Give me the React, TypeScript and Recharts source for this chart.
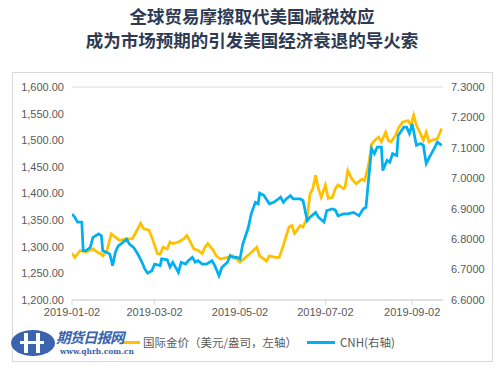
import React from "react";
import { LineChart, Line, XAxis, YAxis, CartesianGrid } from "recharts";

const titleLines = ["全球贸易摩擦取代美国减税效应", "成为市场预期的引发美国经济衰退的导火索"];

// days since 2019-01-02
const tickDays = [0, 59, 120, 181, 243];
const tickLabels = ["2019-01-02", "2019-03-02", "2019-05-02", "2019-07-02", "2019-09-02"];

const goldDays = [0, 2, 6, 10, 15, 18, 21, 22, 25, 28, 31, 34, 39, 43, 45, 49, 51, 55, 57, 61, 63, 65, 68, 70, 72, 76, 80, 82, 84, 87, 90, 93, 95, 97, 101, 103, 106, 111, 115, 120, 124, 127, 132, 134, 139, 141, 145, 148, 151, 155, 157, 159, 163, 165, 168, 170, 172, 174, 176, 178, 181, 183, 186, 188, 190, 194, 195, 197, 200, 203, 207, 209, 212, 214, 216, 219, 221, 224, 226, 228, 231, 233, 236, 240, 242, 244, 246, 249, 251, 253, 255, 257, 261, 264];
const goldValues = [1288, 1280, 1293, 1290, 1296, 1290, 1286, 1283, 1293, 1324, 1318, 1312, 1315, 1315, 1324, 1344, 1334, 1331, 1318, 1287, 1286, 1299, 1296, 1309, 1306, 1309, 1315, 1321, 1312, 1296, 1293, 1287, 1299, 1306, 1293, 1283, 1277, 1280, 1283, 1271, 1280, 1287, 1299, 1283, 1273, 1283, 1280, 1280, 1303, 1337, 1340, 1325, 1340, 1337, 1355, 1399, 1409, 1434, 1409, 1393, 1416, 1391, 1393, 1409, 1416, 1409, 1412, 1443, 1427, 1418, 1427, 1424, 1456, 1493, 1499, 1506, 1497, 1515, 1499, 1497, 1509, 1522, 1534, 1537, 1528, 1547, 1528, 1512, 1500, 1515, 1497, 1500, 1503, 1522];

const cnhDays = [0, 2, 4, 7, 8, 10, 13, 15, 19, 21, 22, 25, 27, 29, 31, 33, 35, 39, 41, 44, 47, 50, 52, 54, 57, 59, 63, 64, 68, 70, 72, 76, 78, 81, 83, 86, 88, 90, 93, 96, 100, 102, 105, 107, 111, 113, 115, 118, 120, 122, 126, 128, 131, 133, 134, 137, 141, 144, 146, 149, 151, 153, 156, 158, 160, 163, 165, 168, 170, 174, 176, 180, 182, 186, 188, 190, 194, 197, 201, 205, 208, 210, 212, 214, 216, 218, 221, 222, 225, 227, 229, 232, 233, 237, 239, 241, 243, 246, 249, 251, 253, 256, 258, 261, 264];
const cnhValues = [6.883, 6.872, 6.856, 6.856, 6.762, 6.762, 6.773, 6.806, 6.817, 6.811, 6.762, 6.756, 6.751, 6.713, 6.757, 6.778, 6.784, 6.8, 6.784, 6.773, 6.751, 6.724, 6.702, 6.688, 6.696, 6.718, 6.713, 6.735, 6.732, 6.708, 6.724, 6.691, 6.724, 6.718, 6.729, 6.74, 6.724, 6.729, 6.718, 6.718, 6.729, 6.713, 6.68, 6.707, 6.724, 6.746, 6.74, 6.74, 6.735, 6.784, 6.839, 6.883, 6.921, 6.916, 6.951, 6.944, 6.916, 6.921, 6.927, 6.938, 6.921, 6.932, 6.943, 6.932, 6.932, 6.932, 6.927, 6.861, 6.872, 6.888, 6.872, 6.856, 6.894, 6.899, 6.896, 6.877, 6.883, 6.883, 6.888, 6.877, 6.899, 6.905, 7.004, 7.097, 7.081, 7.102, 7.102, 7.026, 7.059, 7.053, 7.081, 7.075, 7.141, 7.168, 7.168, 7.147, 7.179, 7.108, 7.114, 7.108, 7.048, 7.075, 7.092, 7.119, 7.108];

const leftTicks = [1200, 1250, 1300, 1350, 1400, 1450, 1500, 1550, 1600];
const rightTicks = [6.6, 6.7, 6.8, 6.9, 7.0, 7.1, 7.2, 7.3];

const goldName = "国际金价（美元/盎司，左轴）";
const cnhName = "CNH(右轴)";

const GOLD = "#FFC000";
const BLUE = "#00B0F0";
const TXT = "#595959";

function buildData() {
  const map = new Map<number, any>();
  goldDays.forEach((d, i) => {
    const r = map.get(d) || { day: d };
    r.gold = goldValues[i];
    map.set(d, r);
  });
  cnhDays.forEach((d, i) => {
    const r = map.get(d) || { day: d };
    r.cnh = cnhValues[i];
    map.set(d, r);
  });
  return Array.from(map.values()).sort((a, b) => a.day - b.day);
}

const data = buildData();

const fmtLeft = (v: number) =>
  v.toLocaleString("en-US", { minimumFractionDigits: 2, maximumFractionDigits: 2 });
const fmtRight = (v: number) => v.toFixed(4);
const fmtX = (v: number) => {
  const i = tickDays.indexOf(v);
  return i >= 0 ? tickLabels[i] : "";
};

const tickStyle = { fill: TXT, fontSize: 11, fontFamily: "Liberation Sans, Arial, sans-serif" };

export default function App() {
  return (
    <div style={{ position: "fixed", left: 0, top: 0, width: 500, height: 368, background: "#fff", overflow: "hidden" }}>
      <div
        style={{
          position: "absolute",
          left: 0,
          top: 4,
          width: 504,
          textAlign: "center",
          fontFamily: "'Noto Sans CJK SC', sans-serif",
          fontWeight: 700,
          fontSize: 17.5,
          lineHeight: "24px",
          color: "#2E3A52",
        }}
      >
        <div>{titleLines[0]}</div>
        <div>{titleLines[1]}</div>
      </div>
      <div
        style={{
          position: "absolute",
          left: 12,
          top: 72,
          width: 481,
          height: 290,
          border: "1px solid #D9D9D9",
          boxSizing: "border-box",
        }}
      />
      <div style={{ position: "absolute", left: 0, top: 0 }}>
        <LineChart
          width={500}
          height={368}
          data={data}
          margin={{ top: 87, right: 7, bottom: 38, left: 10 }}
        >
          <CartesianGrid vertical={false} stroke="#D9D9D9" strokeWidth={1} />
          <XAxis
            dataKey="day"
            type="number"
            domain={[0, 265]}
            ticks={tickDays}
            tickFormatter={fmtX}
            interval={0}
            axisLine={{ stroke: "#D9D9D9" }}
            tickLine={{ stroke: "#D9D9D9" }}
            tickSize={5}
            tickMargin={3}
            height={30}
            tick={tickStyle}
            allowDataOverflow
          />
          <YAxis
            yAxisId="left"
            domain={[1200, 1600]}
            ticks={leftTicks}
            tickFormatter={fmtLeft}
            axisLine={false}
            tickLine={false}
            width={62}
            tick={tickStyle}
            interval={0}
          />
          <YAxis
            yAxisId="right"
            orientation="right"
            domain={[6.6, 7.3]}
            ticks={rightTicks}
            tickFormatter={fmtRight}
            axisLine={false}
            tickLine={false}
            width={50}
            tick={tickStyle}
            interval={0}
          />
          <Line
            yAxisId="left"
            dataKey="gold"
            stroke={GOLD}
            strokeWidth={2.75}
            dot={false}
            connectNulls
            isAnimationActive={false}
          />
          <Line
            yAxisId="right"
            dataKey="cnh"
            stroke={BLUE}
            strokeWidth={2.75}
            dot={false}
            connectNulls
            isAnimationActive={false}
          />
        </LineChart>
      </div>
      {/* legend */}
      <div style={{ position: "absolute", left: 122, top: 341, width: 18, height: 3, background: GOLD }} />
      <div
        style={{
          position: "absolute",
          left: 143,
          top: 333,
          fontSize: 11.5,
          lineHeight: "18px",
          color: TXT,
          fontFamily: "'Noto Sans CJK SC', sans-serif",
          whiteSpace: "nowrap",
        }}
      >
        {goldName}
      </div>
      <div style={{ position: "absolute", left: 307, top: 341, width: 28, height: 3, background: BLUE }} />
      <div
        style={{
          position: "absolute",
          left: 340,
          top: 333,
          fontSize: 11.5,
          lineHeight: "18px",
          color: TXT,
          fontFamily: "'Noto Sans CJK SC', sans-serif",
          whiteSpace: "nowrap",
        }}
      >
        {cnhName}
      </div>
      {/* watermark logo */}
      <svg style={{ position: "absolute", left: 10, top: 328 }} width={48} height={30}>
        <ellipse cx={23} cy={15} rx={22} ry={13} fill="#3B63AE" />
        <rect x={14} y={5} width={4} height={20} fill="#fff" />
        <rect x={26} y={5} width={4} height={20} fill="#fff" />
        <rect x={10} y={13} width={24} height={3} fill="#fff" />
      </svg>
      <div
        style={{
          position: "absolute",
          left: 56,
          top: 329,
          fontSize: 14.5,
          lineHeight: "15px",
          fontWeight: 700,
          fontStyle: "italic",
          color: "#3B63AE",
          fontFamily: "'Noto Sans CJK SC', sans-serif",
          whiteSpace: "nowrap",
          letterSpacing: -1,
        }}
      >
        期货日报网
      </div>
      <div
        style={{
          position: "absolute",
          left: 60,
          top: 347,
          fontSize: 7.5,
          lineHeight: "9px",
          fontWeight: 700,
          color: "#3B63AE",
          fontFamily: "'DejaVu Serif', serif",
          whiteSpace: "nowrap",
        }}
      >
        www.qhrb.com.cn
      </div>
    </div>
  );
}
